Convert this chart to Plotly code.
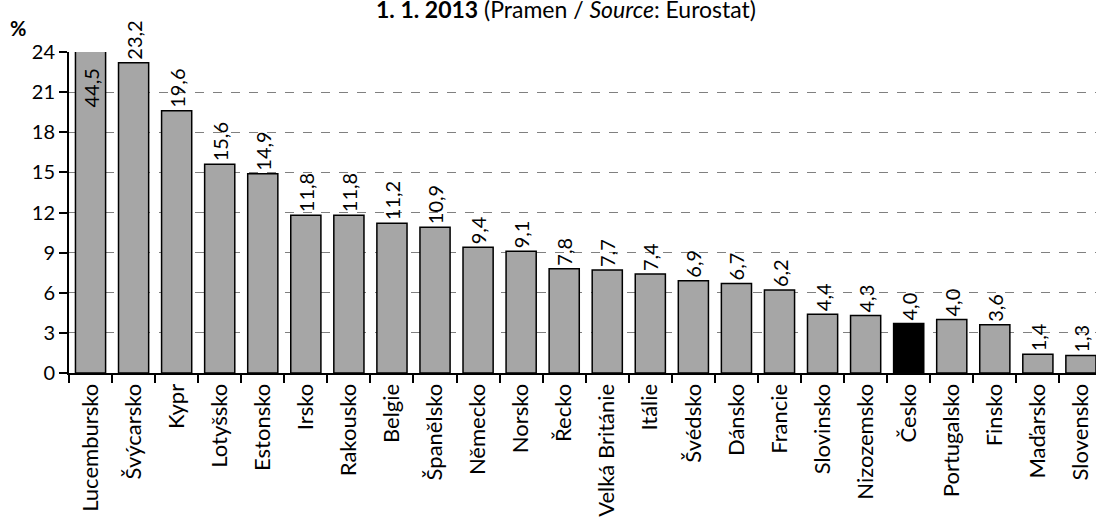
import plotly.graph_objects as go

countries = ["Lucembursko", "Švýcarsko", "Kypr", "Lotyšsko", "Estonsko", "Irsko",
             "Rakousko", "Belgie", "Španělsko", "Německo", "Norsko", "Řecko",
             "Velká Británie", "Itálie", "Švédsko", "Dánsko", "Francie", "Slovinsko",
             "Nizozemsko", "Česko", "Portugalsko", "Finsko", "Maďarsko", "Slovensko"]
bar_values = [44.5, 23.2, 19.6, 15.6, 14.9, 11.8, 11.8, 11.2, 10.9, 9.4, 9.1, 7.8,
              7.7, 7.4, 6.9, 6.7, 6.2, 4.4, 4.3, 3.7, 4.0, 3.6, 1.4, 1.3]
value_labels = ["44,5", "23,2", "19,6", "15,6", "14,9", "11,8", "11,8", "11,2", "10,9",
                "9,4", "9,1", "7,8", "7,7", "7,4", "6,9", "6,7", "6,2", "4,4", "4,3",
                "4,0", "4,0", "3,6", "1,4", "1,3"]
highlight = "Česko"
y_ticks = [0, 3, 6, 9, 12, 15, 18, 21, 24]
y_max = 24

FONT = "Lato"
GRAY = "#a6a6a6"

colors = ["#000000" if c == highlight else GRAY for c in countries]

fig = go.Figure()
# first bar: clipped at the axis top, its label shown inside
fig.add_trace(go.Bar(
    x=countries[:1], y=bar_values[:1],
    marker=dict(color=colors[:1], line=dict(color="black", width=1.5)),
    cliponaxis=True, width=0.7, showlegend=False,
))
fig.add_trace(go.Bar(
    x=countries[1:], y=bar_values[1:], text=value_labels[1:],
    marker=dict(color=colors[1:], line=dict(color="black", width=1.5)),
    textposition="outside", textangle=-90, constraintext="none",
    textfont=dict(family=FONT, size=20, color="black"),
    cliponaxis=False, width=0.7, showlegend=False,
))

fig.update_layout(
    width=1096, height=520,
    margin=dict(l=69, r=0, t=52, b=147, autoexpand=False),
    paper_bgcolor="white", plot_bgcolor="white",
    barmode="overlay",
    font=dict(family=FONT, size=18, color="black"),
    title=dict(
        text="<b>1. 1. 2013</b> (Pramen / <i>Source</i>: Eurostat)",
        x=566 / 1096, xanchor="center", xref="container",
        y=1 - 10 / 520, yanchor="middle", yref="container",
        font=dict(family=FONT, size=23, color="black"),
    ),
    xaxis=dict(
        type="category", categoryorder="array", categoryarray=countries,
        range=[-0.5, 23.35], tickangle=-90, ticks="outside", ticklen=8,
        tickwidth=1.5, tickcolor="black", tickson="boundaries",
        showline=True, linecolor="black", linewidth=2, showgrid=False,
        automargin=False,
        tickfont=dict(family=FONT, size=22, color="black"),
    ),
    yaxis=dict(
        range=[0, y_max], tickvals=y_ticks, ticks="outside", ticklen=8,
        tickwidth=1.5, tickcolor="black",
        showline=True, linecolor="black", linewidth=2,
        showgrid=True, gridcolor="#808080", griddash="dash", gridwidth=1,
        zeroline=False, automargin=False,
        tickfont=dict(family=FONT, size=20, color="black"),
    ),
    annotations=[
        dict(text="<b>%</b>", xref="paper", yref="paper", x=0, y=1,
             xanchor="center", yanchor="middle", xshift=-51, yshift=24,
             showarrow=False, font=dict(family=FONT, size=20, color="black")),
        dict(text=value_labels[0], xref="x", yref="y", x=countries[0], y=y_max,
             xanchor="center", yanchor="middle", yshift=-36, textangle=-90,
             showarrow=False, font=dict(family=FONT, size=20, color="black")),
    ],
)

fig.write_html("out.html", config={"displayModeBar": False},
               post_script="document.body.style.margin='0';")
